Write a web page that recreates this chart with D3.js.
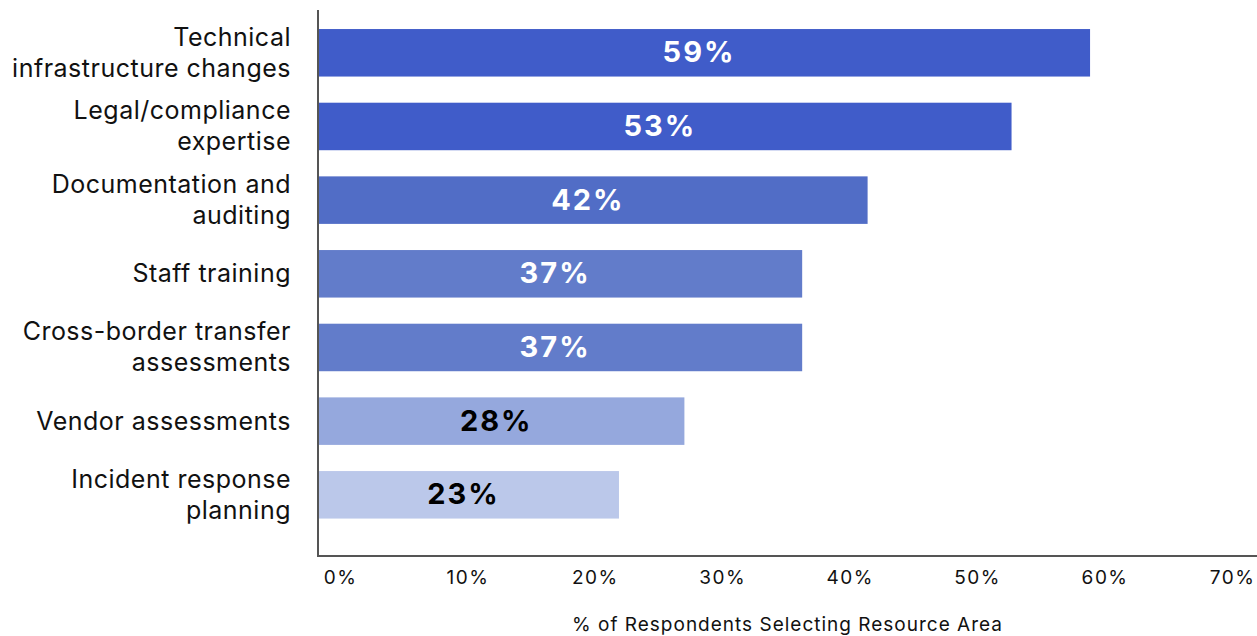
<!DOCTYPE html>
<html>
<head>
<meta charset="utf-8">
<script src="https://cdn.jsdelivr.net/npm/d3@7"></script>
<style>
  html, body { margin: 0; padding: 0; background: #fff; }
  svg { display: block; font-family: Inter, "Noto Sans", sans-serif; }
</style>
</head>
<body>
<svg id="chart" width="1257" height="636"></svg>
<script>
// Resource areas and share of respondents selecting each one
const categories = [
  ["Technical", "infrastructure changes"],
  ["Legal/compliance", "expertise"],
  ["Documentation and", "auditing"],
  ["Staff training"],
  ["Cross-border transfer", "assessments"],
  ["Vendor assessments"],
  ["Incident response", "planning"]
];
const values = [59, 53, 42, 37, 37, 28, 23];
const barColors = ["#405cc9", "#405cc9", "#516dc6", "#627cca", "#627cca", "#95a8dd", "#bbc8ea"];
const labelColors = ["#ffffff", "#ffffff", "#ffffff", "#ffffff", "#ffffff", "#000000", "#000000"];
const tickValues = [0, 10, 20, 30, 40, 50, 60, 70];
const axisTitle = "% of Respondents Selecting Resource Area";

const svg = d3.select("#chart");
const left = 318, right = 1234, axisY = 556;

const x = d3.scaleLinear().domain([0, 70]).range([left, right]);
// tick labels are spread across the full axis width
const xTicks = d3.scaleLinear().domain([0, 70]).range([340, 1232]);

const y = d3.scaleBand()
  .domain(d3.range(values.length))
  .range([14.3, 533.3])
  .paddingInner(0.355)
  .paddingOuter(0.2);

// bars
svg.append("g").selectAll("rect")
  .data(values)
  .join("rect")
  .attr("x", x(0))
  .attr("y", (d, i) => y(i))
  .attr("width", d => x(d) - x(0))
  .attr("height", y.bandwidth())
  .attr("fill", (d, i) => barColors[i]);

// value labels
svg.append("g").selectAll("text")
  .data(values)
  .join("text")
  .attr("x", d => x(d / 2) - 5)
  .attr("y", (d, i) => y(i) + y.bandwidth() / 2 + 9.5)
  .attr("text-anchor", "middle")
  .attr("font-size", 29)
  .attr("font-weight", 700)
  .attr("letter-spacing", 2)
  .attr("fill", (d, i) => labelColors[i])
  .text(d => d + "%");

// category labels, one or two lines each
const catG = svg.append("g");
categories.forEach((lines, i) => {
  const cy = y(i) + y.bandwidth() / 2;
  const lh = 31;
  const t = catG.append("text")
    .attr("text-anchor", "end")
    .attr("font-size", 25)
    .attr("letter-spacing", 0.5)
    .attr("fill", "#111");
  lines.forEach((ln, j) => {
    t.append("tspan")
      .attr("x", 291)
      .attr("y", cy + 8.5 + (j - (lines.length - 1) / 2) * lh)
      .text(ln);
  });
});

// axis lines
svg.append("line")
  .attr("x1", left).attr("x2", left)
  .attr("y1", 10).attr("y2", axisY + 1)
  .attr("stroke", "#555").attr("stroke-width", 2);
svg.append("line")
  .attr("x1", left - 1).attr("x2", 1257)
  .attr("y1", axisY).attr("y2", axisY)
  .attr("stroke", "#555").attr("stroke-width", 2);

// x tick labels
const xAxis = svg.append("g")
  .attr("transform", `translate(0,${axisY})`)
  .call(d3.axisBottom(xTicks).tickValues(tickValues).tickSize(0).tickPadding(15)
    .tickFormat(d => d + "%"));
xAxis.select(".domain").remove();
xAxis.selectAll("text")
  .attr("font-size", 19)
  .attr("letter-spacing", 1.5)
  .attr("font-family", "Inter, 'Noto Sans', sans-serif")
  .attr("fill", "#111");

// axis title
svg.append("text")
  .attr("x", (left + 1257) / 2)
  .attr("y", 631)
  .attr("text-anchor", "middle")
  .attr("font-size", 19)
  .attr("letter-spacing", 1)
  .attr("fill", "#111")
  .text(axisTitle);
</script>
</body>
</html>
